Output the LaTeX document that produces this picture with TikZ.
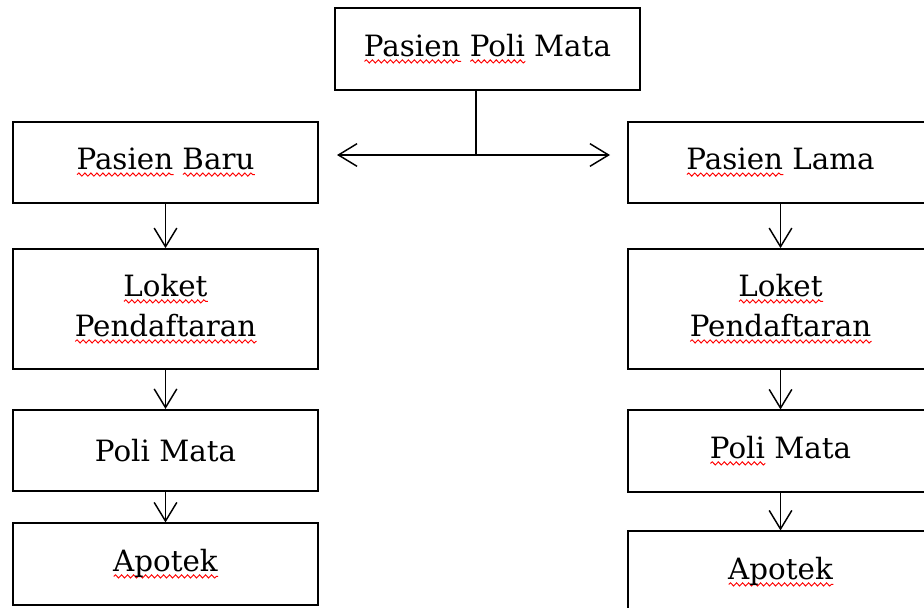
\documentclass[tikz,border=0pt]{standalone}
\usepackage{fontspec}
\setmainfont{DejaVu Serif}
\usetikzlibrary{arrows.meta,decorations.pathmorphing}
\newsavebox\wordbox
\newcommand\spellwave[1]{\sbox\wordbox{#1}\rlap{\raisebox{-5pt}{\tikz\draw[red,line width=0.7pt,decorate,
      decoration={snake,amplitude=1.2pt,segment length=4.5pt}] (0,0) -- (\wd\wordbox,0);}}\usebox\wordbox}
\begin{document}
\begin{tikzpicture}[x=0.75pt,y=-0.75pt,
    box/.style={draw,line width=1.3pt,minimum width=228.75pt,minimum height=61pt,
      inner sep=0pt,align=center,font=\fontsize{22}{30}\selectfont},
    link/.style={line width=1.1pt,-{Straight Barb[length=14pt,width=17pt]}}]
    \useasboundingbox (0,0) rectangle (924,607);
    \clip (0,0) rectangle (924,607);
    \node[box] (P) at (487.5,49) {\spellwave{Pasien} \spellwave{Poli} Mata};
    \coordinate (S) at (476,155);
    \coordinate (SL) at (337,155);
    \coordinate (SR) at (610,155);
    % pasien baru
    \node[box] (B1) at (165.5,162.5) {\spellwave{Pasien} \spellwave{Baru}};
    \node[box,minimum height=90pt] (B2) at (165.5,309) {\spellwave{Loket}\\\spellwave{Pendaftaran}};
    \node[box] (B3) at (165.5,450.5) {Poli Mata};
    \node[box] (B4) at (165.5,564) {\spellwave{Apotek}};
    % pasien lama
    \node[box] (L1) at (780.5,162.5) {\spellwave{Pasien} Lama};
    \node[box,minimum height=90pt] (L2) at (780.5,309) {\spellwave{Loket}\\\spellwave{Pendaftaran}};
    \node[box] (L3) at (780.5,451) {\spellwave{Poli} Mata};
    \node[box] (L4) at (780.5,572) {\spellwave{Apotek}};
    \draw[line width=1.1pt] (P.south -| S) -- (S);
    \draw[link] (S) -- (SL);
    \draw[link] (S) -- (SR);
    \draw[link] (B1) to (B2);
    \draw[link] (B2) to (B3);
    \draw[link] (B3) to (B4);
    \draw[link] (L1) to (L2);
    \draw[link] (L2) to (L3);
    \draw[link] (L3) to (L4);
\end{tikzpicture}
\end{document}
